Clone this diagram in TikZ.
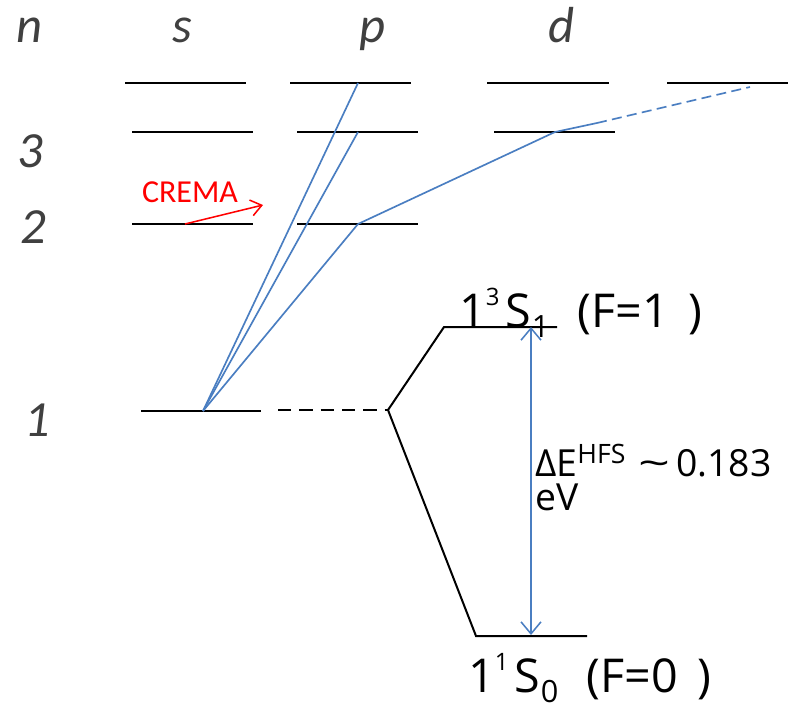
\documentclass[tikz,border=0pt]{standalone}
\usepackage{fontspec}
\setmainfont{Open Sans}
\newfontfamily\qnfont{Carlito}
\usetikzlibrary{arrows.meta}
\definecolor{transblue}{RGB}{74,126,193}
\definecolor{qngray}{RGB}{64,64,64}
\newcommand\supidx[2]{\raisebox{#1}{\fontsize{18}{18}\selectfont #2}}
\newcommand\subidx[1]{\raisebox{-7.5pt}{\fontsize{23}{23}\selectfont #1}}
\newcommand\statelabel[3]{1\supidx{16pt}{#1}\hspace{4pt}S\hspace{1pt}\subidx{#2}\hspace{21pt}(F=#3\hspace{15pt})}

\begin{document}
\begin{tikzpicture}[x=0.75pt, y=-0.75pt,
  level/.style={line width=1.5pt, black},
  trans/.style={line width=1.25pt, color=transblue},
  qnum/.style={font=\qnfont\itshape\fontsize{38}{40}\selectfont, text=qngray,
               inner sep=0pt, anchor=base},
  state/.style={font=\fontsize{35}{38}\selectfont, inner sep=0pt, anchor=base west},
  hfs/.style={font=\fontsize{28}{25}\selectfont, inner sep=0pt, anchor=base west, align=left},
  arrow/.style={{Straight Barb[length=9pt,width=15pt]}-{Straight Barb[length=9pt,width=15pt]},
                line width=1.15pt, color=transblue},
  crema/.style={-{Straight Barb[length=8pt,width=12pt]}, line width=1.15pt, red}
]
\useasboundingbox (0,0) rectangle (790,704);

% quantum numbers
\node[qnum] (qn)  at (30,42)  {n};
\node[qnum] (qs)  at (182,42) {s};
\node[qnum] (qp)  at (373,42) {p};
\node[qnum] (qd)  at (562,42) {d};
\node[qnum] (n3)  at (30,167) {3};
\node[qnum] (n2)  at (33,243) {2};
\node[qnum] (n1)  at (37,436) {1};

% levels
\draw[level] (125,83) -- (246,83);
\draw[level] (290,83) -- (411,83);
\draw[level] (487,83) -- (609,83);
\draw[level] (667,83) -- (788,83);
\draw[level] (132,132) -- (253,132);
\draw[level] (297,132) -- (418,132);
\draw[level] (494,132) -- (615,132);
\draw[level] (132,224) -- (253,224);
\draw[level] (297,224) -- (418,224);
\draw[level] (141,411) -- (261,411);

% transitions
\coordinate (g1) at (203,411);
\coordinate (p4) at (358,83);
\coordinate (p3) at (358,132);
\coordinate (p2) at (358,224);
\coordinate (d3) at (555,132);
\coordinate (d3b) at (597,123);
\coordinate (f4) at (750,87);
\draw[trans] (g1) -- (p4);
\draw[trans] (g1) -- (p3);
\draw[trans] (g1) -- (p2);
\draw[trans] (p2) -- (d3) -- (d3b);
\draw[trans, dash pattern=on 7.5pt off 4pt] (d3b) -- (f4);

% CREMA
\node[font=\qnfont\fontsize{24}{26}\selectfont, text=red, inner sep=0pt, anchor=base]
  (crema) at (190,202) {CREMA};
\coordinate (cr0) at (185,224);
\coordinate (cr1) at (263,205);
\draw[crema] (cr0) -- (cr1);

% hyperfine splitting
\coordinate (hf) at (388,410);
\coordinate (up) at (444,327);
\coordinate (upR) at (557,327);
\coordinate (lo) at (476,636);
\coordinate (loR) at (587,636);
\draw[level, dash pattern=on 10pt off 6pt] (278,410) -- (hf);
\draw[level] (hf) -- (up) -- (upR);
\draw[level] (hf) -- (lo) -- (loR);

\node[state] (triplet) at (459,327) {\statelabel{3}{1}{1}};
\node[state] (singlet) at (468,692) {\statelabel{1}{0}{0}};

\coordinate (au) at (531,327);
\coordinate (al) at (531,635);
\draw[arrow] (au) -- (al);
\node[hfs] (dE) at (535,510)
  {ΔE\raisebox{10pt}{\fontsize{20}{20}\selectfont HFS}\hspace{10pt}\scalebox{1.5}[1]{\textasciitilde}\hspace{4pt}0.183\\eV};
\end{tikzpicture}
\end{document}
